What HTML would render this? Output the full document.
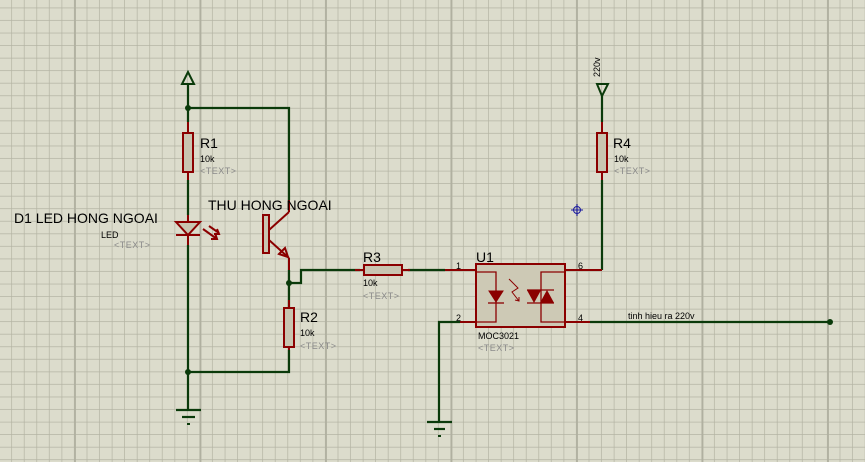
<!DOCTYPE html>
<html><head><meta charset="utf-8"><style>
html,body{margin:0;padding:0;background:#dcdccc;overflow:hidden}
svg{display:block}
text{font-family:"Liberation Sans",sans-serif}
.big{font-size:14px;fill:#000}
.sm{font-size:9px;fill:#000}
.tx{font-size:9px;fill:#8a8a8a;letter-spacing:0.5px}
</style></head><body>
<svg width="865" height="462" viewBox="0 0 865 462" xmlns="http://www.w3.org/2000/svg">
<defs>
<pattern id="g" x="-0.5" y="-4.25" width="12.55" height="12.55" patternUnits="userSpaceOnUse">
<path d="M12.55 0V12.55M0 12.55H12.55" stroke="#b3b3a3" stroke-width="1.4" fill="none"/>
</pattern>
</defs>
<rect width="865" height="462" fill="#dcdccc"/>
<rect width="865" height="462" fill="url(#g)"/>
<g stroke="#b0b0a0" stroke-width="1.8">
<line x1="75" y1="0" x2="75" y2="462"/><line x1="200.5" y1="0" x2="200.5" y2="462"/>
<line x1="326" y1="0" x2="326" y2="462"/><line x1="451.5" y1="0" x2="451.5" y2="462"/>
<line x1="577" y1="0" x2="577" y2="462"/><line x1="702.5" y1="0" x2="702.5" y2="462"/>
<line x1="828" y1="0" x2="828" y2="462"/>
</g>
<g stroke="#0a3a0a" stroke-width="2.2" fill="none">
<polyline points="188,84 188,122"/>
<polyline points="188,108 289,108 289,200"/>
<polyline points="188,180 188,215"/>
<polyline points="188,245 188,410"/>
<polyline points="289,270 289,308"/>
<polyline points="289,283 301,283 301,270 360,270"/>
<polyline points="408,270 445,270"/>
<polyline points="289,350 289,372 188,372"/>
<polyline points="460,322 439,322 439,422"/>
<polyline points="590,322 830,322"/>
<polyline points="602,270 602,180"/>
<polyline points="602,95 602,122"/>
<polyline points="176,410 201,410"/><polyline points="182,417 195,417"/>
<polyline points="427,422 452,422"/><polyline points="434,429 445,429"/>
</g>
<g fill="#0a3a0a">
<rect x="187" y="423" width="3" height="2"/><rect x="438" y="435" width="3" height="2"/>
<circle cx="188" cy="108" r="3"/><circle cx="289" cy="283" r="3"/><circle cx="188" cy="372" r="3"/><circle cx="830" cy="322" r="3"/>
</g>
<polygon points="188,72 182,84 194,84" fill="none" stroke="#0a3a0a" stroke-width="2"/>
<polygon points="602,96 597,84 608,84" fill="none" stroke="#0a3a0a" stroke-width="2"/>
<g stroke="#8b0000" stroke-width="2" fill="#c9c5b1">
<line x1="188" y1="122" x2="188" y2="180"/>
<rect x="183" y="133" width="10" height="39"/>
<line x1="289" y1="300" x2="289" y2="350"/>
<rect x="284" y="308" width="10" height="39"/>
<line x1="602" y1="122" x2="602" y2="180"/>
<rect x="597" y="133" width="10" height="39"/>
<line x1="355" y1="270" x2="410" y2="270"/>
<rect x="364" y="265" width="38" height="10"/>
<line x1="188" y1="215" x2="188" y2="245"/>
<polygon points="176,222 200,222 188,235"/>
<line x1="176" y1="235" x2="200" y2="235"/>
<line x1="289" y1="200" x2="289" y2="212"/>
<line x1="289" y1="212" x2="269" y2="230"/>
<line x1="269" y1="240" x2="289" y2="258"/>
<line x1="289" y1="258" x2="289" y2="270"/>
<polygon points="279,254 288,257 285,248" fill="none"/>
<rect x="263" y="215" width="6" height="38"/>
<line x1="203" y1="229" x2="217" y2="239"/><polyline points="211,239 217,239 215,233" fill="none"/>
<line x1="209" y1="226" x2="219" y2="233" /><polyline points="214,234 219,234 217,229" fill="none"/>
<line x1="445" y1="270" x2="476" y2="270"/><line x1="460" y1="322" x2="476" y2="322"/>
<line x1="565" y1="270" x2="602" y2="270"/><line x1="565" y1="322" x2="590" y2="322"/>
<rect x="476" y="264" width="89" height="63" fill="#cdc9b5"/>
<polyline points="476,272 496,272 496,322 476,322" fill="none" stroke-width="1.3"/>
<polyline points="565,272 541,272 541,322 565,322" fill="none" stroke-width="1.3"/>
<polygon points="489,291 503,291 496,302" fill="#8b0000" stroke-width="1"/>
<line x1="488" y1="303" x2="504" y2="303" stroke-width="1.3"/>
<polygon points="528,291 540,291 534,302" fill="#8b0000" stroke-width="1"/>
<polygon points="541,302 553,302 547,291" fill="#8b0000" stroke-width="1"/>
<line x1="527" y1="290" x2="554" y2="290" stroke-width="1.3"/><line x1="527" y1="303" x2="554" y2="303" stroke-width="1.3"/>
<polyline points="509,279 518,288 512,292 519,301" fill="none" stroke-width="1"/>
<polyline points="515,300 519,301 519,297" fill="none" stroke-width="1"/>
</g>
<g stroke="#1a1aa0" stroke-width="1" fill="none"><circle cx="577" cy="210" r="3.5"/><line x1="571" y1="210" x2="583" y2="210"/><line x1="577" y1="204" x2="577" y2="216"/></g>
<text class="big" x="200" y="148">R1</text><text class="sm" x="200" y="162">10k</text><text class="tx" x="200" y="174">&lt;TEXT&gt;</text>
<text class="big" x="613" y="148">R4</text><text class="sm" x="614" y="162">10k</text><text class="tx" x="614" y="174">&lt;TEXT&gt;</text>
<text class="big" x="300" y="322">R2</text><text class="sm" x="300" y="336">10k</text><text class="tx" x="300" y="349">&lt;TEXT&gt;</text>
<text class="big" x="363" y="262">R3</text><text class="sm" x="363" y="286">10k</text><text class="tx" x="363" y="299">&lt;TEXT&gt;</text>
<text class="big" x="208" y="210">THU HONG NGOAI</text>
<text class="big" x="14" y="223">D1 LED HONG NGOAI</text>
<text class="sm" x="101" y="238">LED</text><text class="tx" x="114" y="248">&lt;TEXT&gt;</text>
<text class="big" x="476" y="262">U1</text>
<text class="sm" x="478" y="339">MOC3021</text><text class="tx" x="478" y="351">&lt;TEXT&gt;</text>
<text class="sm" x="456" y="269">1</text><text class="sm" x="456" y="321">2</text>
<text class="sm" x="578" y="269">6</text><text class="sm" x="578" y="321">4</text>
<text class="sm" x="628" y="319">tinh hieu ra 220v</text>
<text class="sm" transform="translate(600,77) rotate(-90)">220v</text>
</svg>
</body></html>
